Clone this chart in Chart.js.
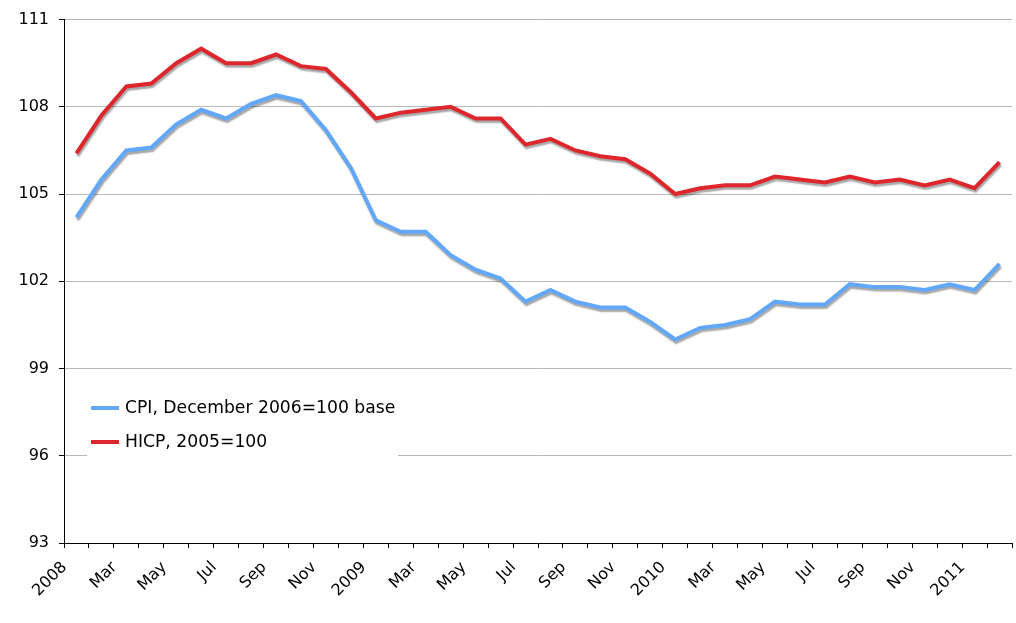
<!DOCTYPE html>
<html>
<head>
<meta charset="utf-8">
<script src="https://cdn.jsdelivr.net/npm/chart.js@4.4.1/dist/chart.umd.min.js"></script>
<style>
html,body{margin:0;padding:0;background:#fff;}
#wrap{width:1016px;height:623px;position:relative;}
</style>
</head>
<body>
<div id="wrap"><canvas id="c"></canvas></div>
<script>
const categories = ["2008","Feb","Mar","Apr","May","Jun","Jul","Aug","Sep","Oct","Nov","Dec",
  "2009","Feb","Mar","Apr","May","Jun","Jul","Aug","Sep","Oct","Nov","Dec",
  "2010","Feb","Mar","Apr","May","Jun","Jul","Aug","Sep","Oct","Nov","Dec",
  "2011","Feb"];
const cpiValues = [104.2,105.5,106.5,106.6,107.4,107.9,107.6,108.1,108.4,108.2,107.2,105.9,
  104.1,103.7,103.7,102.9,102.4,102.1,101.3,101.7,101.3,101.1,101.1,100.6,
  100.0,100.4,100.5,100.7,101.3,101.2,101.2,101.9,101.8,101.8,101.7,101.9,
  101.7,102.6];
const hicpValues = [106.4,107.7,108.7,108.8,109.5,110.0,109.5,109.5,109.8,109.4,109.3,108.5,
  107.6,107.8,107.9,108.0,107.6,107.6,106.7,106.9,106.5,106.3,106.2,105.7,
  105.0,105.2,105.3,105.3,105.6,105.5,105.4,105.6,105.4,105.5,105.3,105.5,
  105.2,106.1];
const seriesNames = ["CPI, December 2006=100 base","HICP, 2005=100"];
const yTicks = [93,96,99,102,105,108,111];

const BLUE = 'rgb(98,168,250)';
const RED = 'rgb(221,39,45)';
const FONT = '"DejaVu Sans", Verdana, sans-serif';

const shadowPlugin = {
  id: 'shadow',
  beforeDatasetDraw(chart) {
    const ctx = chart.ctx;
    ctx.save();
    ctx.shadowColor = 'rgba(0,0,0,0.35)';
    ctx.shadowOffsetX = 1;
    ctx.shadowOffsetY = 2.5;
    ctx.shadowBlur = 1.5;
  },
  afterDatasetDraw(chart) { chart.ctx.restore(); }
};

const legendPlugin = {
  id: 'innerLegend',
  afterDatasetsDraw(chart) {
    const ctx = chart.ctx;
    ctx.save();
    ctx.fillStyle = '#fff';
    ctx.fillRect(87, 385, 311, 76);
    const rows = [408, 442];
    chart.data.datasets.forEach((ds, i) => {
      const y = rows[i];
      ctx.strokeStyle = ds.borderColor;
      ctx.lineWidth = 4;
      ctx.beginPath();
      ctx.moveTo(91, y);
      ctx.lineTo(119, y);
      ctx.stroke();
      ctx.fillStyle = '#000';
      ctx.font = '17.2px ' + FONT;
      ctx.textBaseline = 'middle';
      ctx.textAlign = 'left';
      ctx.fillText(ds.label, 125, y + 1);
    });
    ctx.restore();
  }
};

new Chart(document.getElementById('c'), {
  type: 'line',
  data: {
    labels: categories,
    datasets: [
      { label: seriesNames[0], data: cpiValues, borderColor: BLUE, backgroundColor: BLUE,
        borderWidth: 4, pointRadius: 0, tension: 0, fill: false },
      { label: seriesNames[1], data: hicpValues, borderColor: RED, backgroundColor: RED,
        borderWidth: 4, pointRadius: 0, tension: 0, fill: false }
    ]
  },
  options: {
    responsive: true,
    maintainAspectRatio: false,
    animation: false,
    devicePixelRatio: 1,
    layout: { padding: { left: 0, right: 4, top: 13, bottom: 0 } },
    plugins: { legend: { display: false }, tooltip: { enabled: false } },
    scales: {
      x: {
        type: 'category',
        offset: true,
        grid: { offset: true, drawOnChartArea: false, drawTicks: true, tickLength: 5, tickColor: '#000' },
        border: { color: '#000', width: 1 },
        ticks: {
          autoSkip: false, maxRotation: 45, minRotation: 45, labelOffset: -12, padding: 10,
          color: '#000', font: { family: FONT, size: 16 },
          callback: function(v, i) { return i % 2 === 0 ? this.getLabelForValue(v) : ''; }
        },
        afterFit(s) { s.height = 80; s.paddingLeft = 0; s.paddingRight = 0; }
      },
      y: {
        min: yTicks[0], max: yTicks[yTicks.length - 1],
        afterBuildTicks(s) { s.ticks = yTicks.map(v => ({ value: v })); },
        grid: { color: '#b8b8b8', tickColor: '#000', tickLength: 5, lineWidth: 1 },
        border: { color: '#000', width: 1 },
        ticks: { color: '#000', padding: 10, font: { family: FONT, size: 16 } },
        afterFit(s) { s.width = 64; }
      }
    }
  },
  plugins: [shadowPlugin, legendPlugin]
});
</script>
</body>
</html>
